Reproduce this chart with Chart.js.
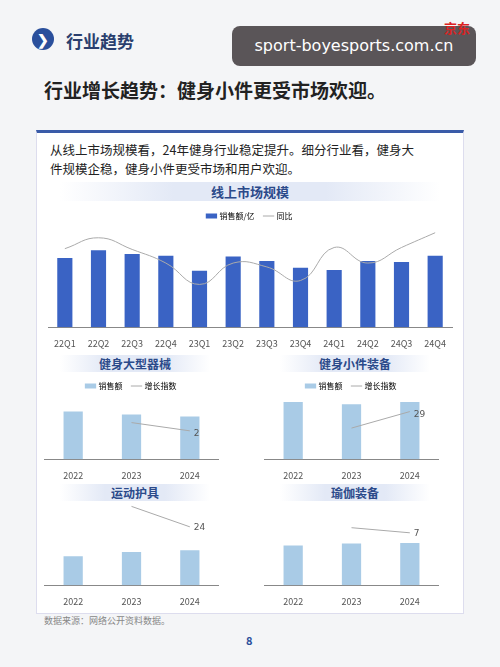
<!DOCTYPE html><html><head><meta charset="utf-8">
<script src="https://cdn.jsdelivr.net/npm/chart.js@4"></script>
<style>
body{margin:0;width:500px;height:667px;background:#f4f5f7;font-family:"Noto Sans CJK SC",sans-serif;position:relative;overflow:hidden}
.abs{position:absolute}
.t{font-weight:bold;color:#2b4a8a;font-size:12px;text-align:center;background:linear-gradient(90deg,rgba(220,228,245,0),#e3e9f6 30%,#e3e9f6 70%,rgba(220,228,245,0))}
</style></head><body>
<div class="abs" style="left:32px;top:28px;width:22px;height:22px;border-radius:11px;background:#2a4f9c;color:#fff;font-size:14px;text-align:center;line-height:22px;font-weight:bold">❯</div>
<div class="abs" style="left:66px;top:28px;font-size:17px;font-weight:bold;color:#2a3f6e">行业趋势</div>
<div class="abs" style="left:232px;top:26px;width:244px;height:40px;border-radius:8px;background:#5a5558;color:#fff;font-size:16px;line-height:40px;text-align:center;font-family:'DejaVu Sans'">sport-boyesports.com.cn</div>
<div class="abs" style="left:444px;top:18px;color:#d22;font-size:13px;font-weight:bold">京东</div>
<div class="abs" style="left:44px;top:76px;font-size:19px;font-weight:bold;color:#222">行业增长趋势：健身小件更受市场欢迎。</div>
<div class="abs" style="left:36px;top:130px;width:426px;height:480px;background:#fff;border:1px solid #dde;border-top:3px solid #3a5ba8"></div>
<div class="abs" style="left:50px;top:140px;width:375px;font-size:12.5px;color:#222;line-height:19px">从线上市场规模看，24年健身行业稳定提升。细分行业看，健身大件规模企稳，健身小件更受市场和用户欢迎。</div>
<div class="abs t" style="left:60px;top:182px;width:380px;font-size:13px">线上市场规模</div>
<div class="abs" style="left:40px;top:202px;width:420px;height:150px"><canvas id="c0"></canvas></div>
<div class="abs t" style="left:60px;top:355px;width:150px">健身大型器械</div>
<div class="abs t" style="left:280px;top:355px;width:150px">健身小件装备</div>
<div class="abs t" style="left:60px;top:484px;width:150px">运动护具</div>
<div class="abs t" style="left:280px;top:484px;width:150px">瑜伽装备</div>
<div class="abs" style="left:44px;top:372px;width:175px;height:112px"><canvas id="c1"></canvas></div>
<div class="abs" style="left:264px;top:372px;width:175px;height:112px"><canvas id="c2"></canvas></div>
<div class="abs" style="left:44px;top:500px;width:175px;height:110px"><canvas id="c3"></canvas></div>
<div class="abs" style="left:264px;top:500px;width:175px;height:110px"><canvas id="c4"></canvas></div>
<div class="abs" style="left:44px;top:614px;font-size:9px;color:#888">数据来源：网络公开资料数据。</div>
<div class="abs" style="left:246px;top:632px;font-size:11px;color:#2a4f9c;font-weight:bold">8</div>
<script>
const quarters=["22Q1","22Q2","22Q3","22Q4","23Q1","23Q2","23Q3","23Q4","24Q1","24Q2","24Q3","24Q4"];
const sales=[178,198,188,184,145,182,170,153,147,170,168,184];
const yoy=[202,230,200,165,110,165,155,120,205,165,205,243];
const years=["2022","2023","2024"];
const bigSales=[173,162,155], bigIdx=[null,133,103], bigLabel="2";
const smallSales=[208,200,208], smallIdx=[null,113,173], smallLabel="29";
const protSales=[68,78,82], protIdx=[null,185,137], protLabel="24";
const yogaSales=[93,98,99], yogaIdx=[null,135,123], yogaLabel="7";
Chart.defaults.font.family="'Noto Sans CJK SC',sans-serif";
Chart.defaults.color="#555";
const xs={grid:{display:false},border:{color:"#888"},ticks:{font:{size:9}}};
const leg={reverse:true,labels:{usePointStyle:true,font:{size:8},generateLabels(ch){return ch.data.datasets.map((d,i)=>({text:d.label,datasetIndex:i,fillStyle:d.type==="line"?d.borderColor:d.backgroundColor,strokeStyle:d.type==="line"?d.borderColor:d.backgroundColor,lineWidth:d.type==="line"?1:5,pointStyle:"line"}));}}};
new Chart(c0,{type:"bar",data:{labels:quarters,datasets:[
 {type:"line",label:"同比",data:yoy,borderColor:"#aaa",borderWidth:1,pointRadius:0,tension:0.45,order:0},
 {label:"销售额/亿",data:sales,backgroundColor:"#3a63c4",barPercentage:0.45,categoryPercentage:1,order:1}]},
 options:{animation:false,maintainAspectRatio:false,layout:{padding:{left:8,right:8}},
 plugins:{legend:leg},
 scales:{x:xs,y:{display:false,min:0,max:250}}}});
function small(id,s,l,lab,legend){
 new Chart(document.getElementById(id),{type:"bar",data:{labels:years,datasets:[
  {type:"line",label:"增长指数",data:l,borderColor:"#aaa",borderWidth:1,pointRadius:0,order:0},
  {label:"销售额",data:s,backgroundColor:"#a9cbe6",barPercentage:0.33,categoryPercentage:1,order:1}]},
  options:{animation:false,maintainAspectRatio:false,
  plugins:{legend:Object.assign({display:legend},leg)},
  scales:{x:xs,y:{display:false,min:0,max:legend?215:200}}},
  plugins:[{afterDatasetsDraw(ch){const m=ch.getDatasetMeta(0).data[2];const c=ch.ctx;c.save();c.fillStyle="#555";c.font="9px 'DejaVu Sans'";c.fillText(lab,m.x+4,m.y+3);c.restore();}}]});
}
small("c1",bigSales,bigIdx,bigLabel,true);
small("c2",smallSales,smallIdx,smallLabel,true);
small("c3",protSales,protIdx,protLabel,false);
small("c4",yogaSales,yogaIdx,yogaLabel,false);
</script></body></html>
